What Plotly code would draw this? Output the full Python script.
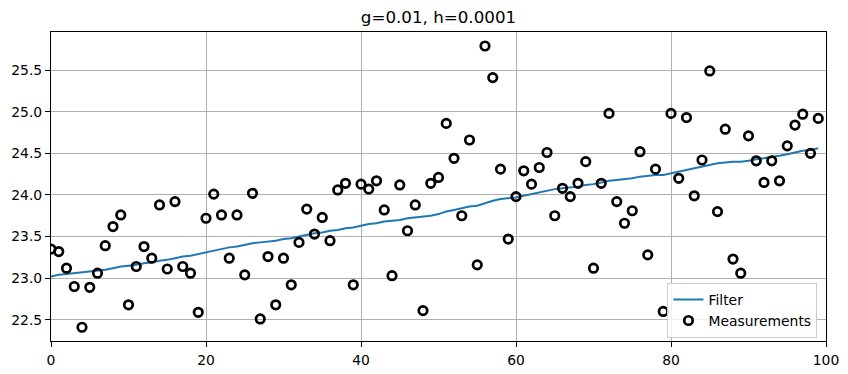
import plotly.graph_objects as go

x_index = list(range(100))

measurements = [
    23.35, 23.32, 23.12, 22.90, 22.41, 22.89, 23.06, 23.39, 23.62, 23.76,
    22.68, 23.14, 23.38, 23.24, 23.88, 23.11, 23.92, 23.14, 23.06, 22.59,
    23.72, 24.01, 23.76, 23.24, 23.76, 23.04, 24.02, 22.51, 23.26, 22.68,
    23.24, 22.92, 23.43, 23.83, 23.53, 23.73, 23.45, 24.06, 24.14, 22.92,
    24.13, 24.07, 24.17, 23.82, 23.03, 24.12, 23.57, 23.88, 22.61, 24.14,
    24.21, 24.86, 24.44, 23.75, 24.66, 23.16, 25.79, 25.41, 24.31, 23.47,
    23.98, 24.29, 24.13, 24.33, 24.51, 23.75, 24.08, 23.98, 24.14, 24.40,
    23.12, 24.14, 24.98, 23.92, 23.66, 23.81, 24.52, 23.28, 24.31, 22.60,
    24.98, 24.20, 24.93, 23.99, 24.42, 25.49, 23.80, 24.79, 23.23, 23.06,
    24.71, 24.41, 24.15, 24.41, 24.17, 24.59, 24.84, 24.97, 24.50, 24.92,
]

filter_values = [
    23.02, 23.04, 23.05, 23.06, 23.07, 23.08, 23.09, 23.10, 23.12, 23.14,
    23.15, 23.16, 23.18, 23.19, 23.21, 23.22, 23.24, 23.26, 23.27, 23.29,
    23.31, 23.33, 23.35, 23.37, 23.38, 23.40, 23.42, 23.43, 23.44, 23.45,
    23.47, 23.48, 23.50, 23.52, 23.54, 23.55, 23.57, 23.58, 23.60, 23.61,
    23.63, 23.65, 23.66, 23.68, 23.69, 23.70, 23.72, 23.73, 23.74, 23.75,
    23.77, 23.80, 23.82, 23.84, 23.86, 23.87, 23.90, 23.93, 23.95, 23.96,
    23.97, 23.99, 24.01, 24.03, 24.05, 24.07, 24.08, 24.09, 24.10, 24.12,
    24.13, 24.15, 24.17, 24.18, 24.19, 24.20, 24.22, 24.23, 24.24, 24.24,
    24.26, 24.28, 24.30, 24.32, 24.34, 24.36, 24.38, 24.39, 24.40, 24.40,
    24.41, 24.43, 24.44, 24.46, 24.47, 24.49, 24.51, 24.53, 24.54, 24.56,
]

x_ticks = [0, 20, 40, 60, 80, 100]
y_ticks = [22.5, 23.0, 23.5, 24.0, 24.5, 25.0, 25.5]
title_text = "g=0.01, h=0.0001"

FONT = "DejaVu Sans"

fig = go.Figure()
fig.add_trace(go.Scatter(
    x=x_index, y=filter_values, mode="lines", name="Filter",
    line=dict(color="#1f77b4", width=2),
))
fig.add_trace(go.Scatter(
    x=x_index, y=measurements, mode="markers", name="Measurements",
    marker=dict(symbol="circle-open", size=8.5, color="black",
                line=dict(color="black", width=2.7)),
))

axis_common = dict(
    showline=True, linecolor="black", linewidth=1.1, mirror=True,
    showgrid=True, gridcolor="#b0b0b0", gridwidth=1.1,
    ticks="outside", ticklen=5, tickwidth=1.1, tickcolor="black",
    tickfont=dict(family=FONT, size=13.9, color="black"),
    zeroline=False, automargin=False,
)

fig.update_layout(
    width=848, height=374,
    margin=dict(l=51, r=22, t=32, b=33),
    paper_bgcolor="white", plot_bgcolor="white",
    font=dict(family=FONT, color="black"),
    title=dict(text=title_text, x=0.5, xref="paper", xanchor="center",
               y=1 - 17 / 374, yref="container", yanchor="middle",
               font=dict(family=FONT, size=16.7, color="black")),
    xaxis=dict(range=[0, 100], tickvals=x_ticks, ticklabelstandoff=1,
               **axis_common),
    yaxis=dict(range=[22.245, 25.958], tickvals=y_ticks, tickformat=".1f",
               **axis_common),
    legend=dict(x=0.989, y=0.01, xanchor="right", yanchor="bottom",
                bgcolor="rgba(255,255,255,0.8)", bordercolor="#cccccc",
                borderwidth=1, font=dict(family=FONT, size=13.9, color="black"),
                tracegroupgap=0, itemwidth=30),
    showlegend=True,
)

fig.write_html("out.html")
